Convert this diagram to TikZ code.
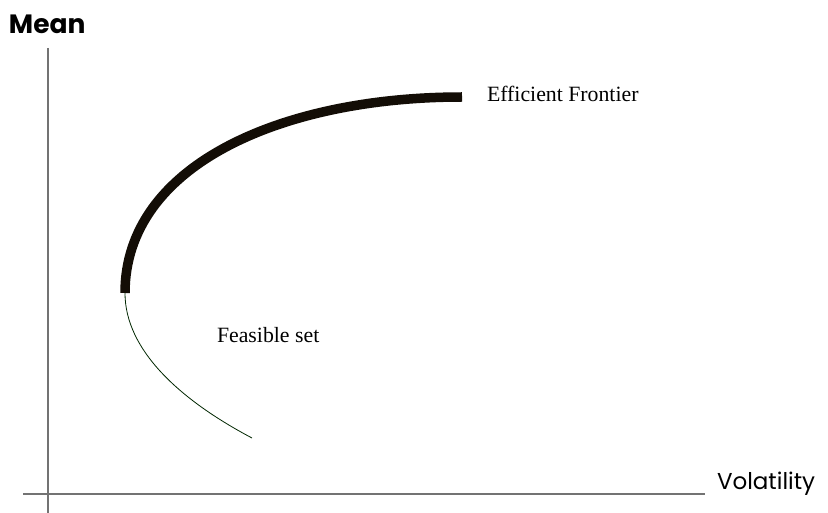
\documentclass[tikz,border=0pt]{standalone}
\usepackage{fontspec}
\setmainfont{Liberation Serif}
\newfontfamily\axisfont{Poppins}
\usetikzlibrary{positioning}

\begin{document}
\begin{tikzpicture}[
      x=1pt, y=-1pt,
      every node/.style={inner sep=0pt, outer sep=0pt},
      axis/.style={draw=black!55, line width=1.3pt},
      frontier/.style={line width=9.5pt, black!90!brown},
      feasible/.style={line width=0.8pt, black!85!green},
      curvelabel/.style={anchor=base west, font=\fontsize{21.8}{24}\selectfont},
      axislabel/.style={anchor=base west, font=\axisfont\fontsize{23}{26}\selectfont}
    ]
    \useasboundingbox (0,0) rectangle (828,513);

    % Axes
    \coordinate (ytop) at (48,48);
    \coordinate (ybot) at (48,513);
    \coordinate (xleft) at (23,494);
    \coordinate (xright) at (705,494);
    \draw[axis] (ytop) -- (ybot);
    \draw[axis] (xleft) -- (xright);

    % Curves
    \coordinate (minvar) at (125,293);
    \coordinate (topend) at (462,97);
    \coordinate (lowend) at (252,438);
    \draw[frontier] (minvar) .. controls (125,165) and (282,97) .. (topend);
    \draw[feasible] (minvar) .. controls (125,350) and (180,400) .. (lowend);

    % Labels
    \node[axislabel, font=\axisfont\bfseries\fontsize{26.5}{28}\selectfont] (mean) at (9,34) {Mean};
    \node[axislabel] (vol) at (717,489) {Volatility};
    \node[curvelabel] (eff) at (487,102) {Efficient Frontier};
    \node[curvelabel] (feas) at (217,342) {Feasible set};
\end{tikzpicture}
\end{document}
